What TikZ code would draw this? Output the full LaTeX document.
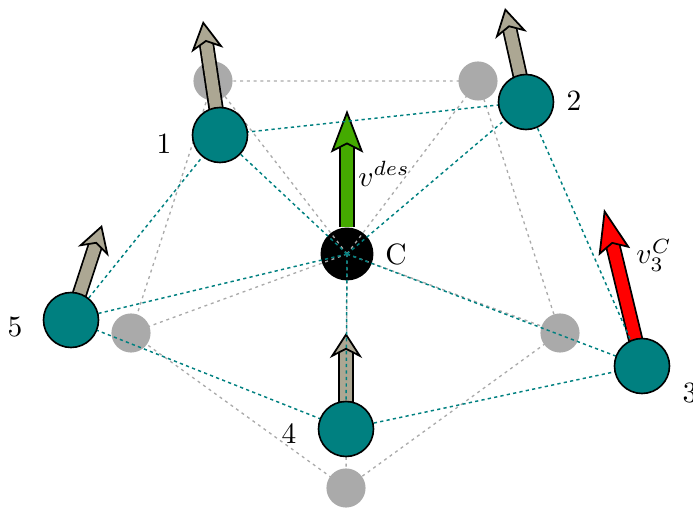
\documentclass[tikz,border=0pt]{standalone}
\usepackage{amsmath,amssymb}
\usepackage{tikz}
\usetikzlibrary{arrows.meta}

\definecolor{agentteal}{HTML}{008080}
\definecolor{ghostgray}{HTML}{AAAAAA}
\definecolor{veltan}{HTML}{ACA793}
\definecolor{desgreen}{HTML}{44AA00}

\tikzset{
    agent/.style={circle,draw=black,line width=0.55pt,fill=agentteal,minimum size=18.7pt,inner sep=0pt},
    ghost/.style={circle,fill=ghostgray,minimum size=13.3pt,inner sep=0pt},
    center/.style={circle,fill=black,minimum size=18pt,inner sep=0pt},
    tealedge/.style={agentteal,line width=0.5pt,dash pattern=on 1.1pt off 1.1pt},
    grayedge/.style={ghostgray,line width=0.45pt,dash pattern=on 1pt off 1.3pt},
    velarrow/.style n args={2}{draw=black,line width=0.6pt,double=#1,double distance=4pt,
        -{Stealth[length=#2,width=11pt,inset=2.8pt,fill=#1]}},
}

\begin{document}
\begin{tikzpicture}[x=0.34pt,y=-0.34pt]
    \useasboundingbox (0,0) rectangle (693,508);

    \node[ghost] (g1) at (213,81) {};
    \node[ghost] (g2) at (478,81) {};
    \node[ghost] (g3) at (560,333) {};
    \node[ghost] (g4) at (346,488) {};
    \node[ghost] (g5) at (131,333) {};
    \node[center] (c) at (347,254) {};

    \draw[grayedge] (g1.center) -- (g2.center) -- (g3.center) -- (g4.center) -- (g5.center) -- (g1.center);
    \draw[grayedge] (c.center) -- (g1.center);
    \draw[grayedge] (c.center) -- (g2.center);
    \draw[grayedge] (c.center) -- (g3.center);
    \draw[grayedge] (c.center) -- (g4.center);
    \draw[grayedge] (c.center) -- (g5.center);

    \coordinate (n1) at (220,135);
    \coordinate (n2) at (526,102);
    \coordinate (n3) at (642,366);
    \coordinate (n4) at (346,429);
    \coordinate (n5) at (71,320);

    \coordinate (t1) at (203,21);
    \coordinate (t2) at (505,8);
    \coordinate (t3) at (604,209);
    \coordinate (t4) at (346,333);
    \coordinate (t5) at (102,225);
    \coordinate (tc) at (347,110);

    \draw[velarrow={veltan}{10pt}] (n1) -- (t1);
    \draw[velarrow={veltan}{9.5pt}] (n2) -- (t2);
    \draw[velarrow={red}{15pt}] (n3) -- (t3);
    \draw[velarrow={veltan}{8.5pt}] (n4) -- (t4);
    \draw[velarrow={veltan}{9.5pt}] (n5) -- (t5);
    \draw[velarrow={desgreen}{14.5pt}] (c.north) -- (tc);

    \draw[tealedge] (n1) -- (n2) -- (n3) -- (n4) -- (n5) -- (n1);
    \draw[tealedge] (c.center) -- (n1);
    \draw[tealedge] (c.center) -- (n2);
    \draw[tealedge] (c.center) -- (n3);
    \draw[tealedge] (c.center) -- (n4);
    \draw[tealedge] (c.center) -- (n5);

    \node[agent] (a1) at (n1) {};
    \node[agent] (a2) at (n2) {};
    \node[agent] (a3) at (n3) {};
    \node[agent] (a4) at (n4) {};
    \node[agent] (a5) at (n5) {};

    \node (l1) at (164,144) {1};
    \node (l2) at (574,101) {2};
    \node (l3) at (690,393) {3};
    \node (l4) at (289,434) {4};
    \node (l5) at (15,327) {5};
    \node (lc) at (396,254) {C};
    \node (lv) at (384,174) {$v^{des}$};
    \node (lv3) at (654,255) {$v_3^C$};
\end{tikzpicture}
\end{document}
